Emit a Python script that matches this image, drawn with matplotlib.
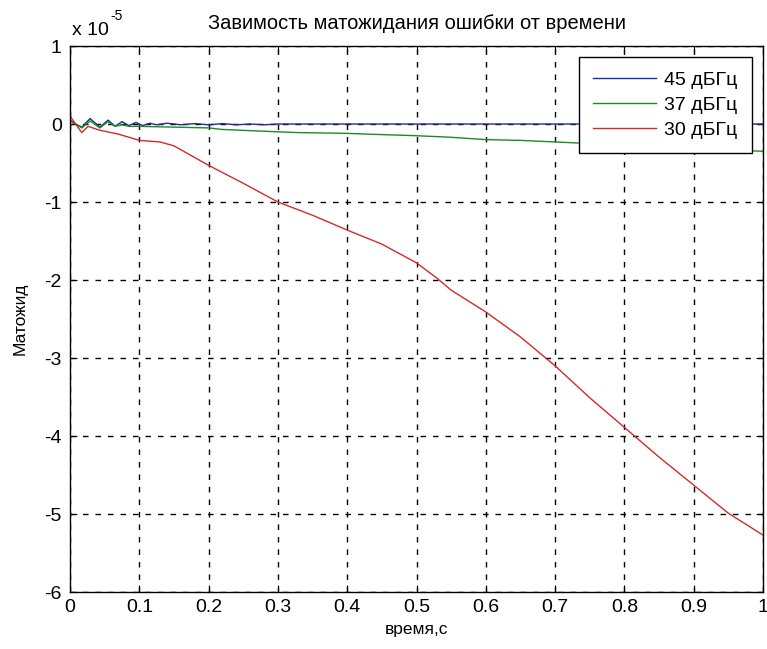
import matplotlib
matplotlib.use('Agg')
import matplotlib.pyplot as plt

plt.rcParams['font.family'] = ['Liberation Sans', 'DejaVu Sans']
plt.rcParams['axes.unicode_minus'] = False

# values in units of 1e-5
t45 = [0, 0.008, 0.017, 0.029, 0.043, 0.055, 0.065, 0.075, 0.085, 0.095, 0.105, 0.115, 0.125,
       0.14, 0.16, 0.18, 0.2, 0.22, 0.24, 0.26, 0.28, 0.3, 0.32, 1.0]
y45 = [0.05, 0.0, -0.04, 0.07, -0.04, 0.05, -0.03, 0.03, -0.02, 0.02, -0.02, 0.01, -0.01,
       0.01, -0.01, 0.005, -0.01, 0.005, -0.01, 0.0, -0.01, 0.0, 0.0, 0.0]

t37 = [0, 0.008, 0.017, 0.029, 0.043, 0.055, 0.065, 0.075, 0.085, 0.1, 0.15, 0.2, 0.22,
       0.3, 0.33, 0.4, 0.43, 0.5, 0.55, 0.6, 0.65, 0.7, 0.75, 0.8, 0.85, 0.9, 0.95, 1.0]
y37 = [0.04, 0.0, -0.05, 0.04, -0.05, 0.03, -0.03, -0.01, -0.03, -0.03, -0.04, -0.05, -0.07,
       -0.1, -0.11, -0.12, -0.13, -0.15, -0.17, -0.2, -0.21, -0.23, -0.25, -0.27, -0.29, -0.31, -0.33, -0.35]

t30 = [0, 0.017, 0.026, 0.043, 0.07, 0.1, 0.13, 0.15, 0.17, 0.2, 0.25, 0.3, 0.35, 0.4, 0.45, 0.5,
       0.53, 0.55, 0.6, 0.65, 0.7, 0.75, 0.8, 0.85, 0.9, 0.95, 1.0]
y30 = [0.1, -0.11, -0.03, -0.08, -0.13, -0.21, -0.23, -0.28, -0.38, -0.53, -0.76, -1.0, -1.17,
       -1.36, -1.54, -1.78, -1.98, -2.13, -2.41, -2.73, -3.1, -3.51, -3.89, -4.27, -4.63, -4.99, -5.27]

labels = ['45 дБГц', '37 дБГц', '30 дБГц']

fig = plt.figure(figsize=(7.67, 6.49), dpi=100)
ax = fig.add_axes([0.0913, 0.0878, 0.9035, 0.8413])

ax.plot(t45, y45, color='#1f2aa0', lw=1.0, label=labels[0])
ax.plot(t37, y37, color='#1f8a1f', lw=1.0, label=labels[1])
ax.plot(t30, y30, color='#d42a2a', lw=1.0, label=labels[2])

ax.set_xlim(0, 1)
ax.set_ylim(-6, 1)
ax.set_xticks([i / 10 for i in range(11)])
ax.set_xticklabels(['0', '0.1', '0.2', '0.3', '0.4', '0.5', '0.6', '0.7', '0.8', '0.9', '1'])
ax.set_yticks(range(-6, 2))
ax.tick_params(direction='in', labelsize=14, length=5, top=True, right=True)
ax.tick_params(axis='x', pad=5)
ax.tick_params(axis='y', pad=6)
ax.grid(True, color='black', linestyle=(0, (4, 5)), linewidth=1.0)
for s in ax.spines.values():
    s.set_linewidth(1.0)

# MATLAB-style exponent label
ax.text(0.003, 1.012, 'x 10', transform=ax.transAxes, fontsize=14, va='bottom')
ax.text(0.058, 1.042, '-5', transform=ax.transAxes, fontsize=10, va='bottom')
ax.set_title('Завимость матожидания ошибки от времени', fontsize=14.5, pad=12)
ax.set_xlabel('время,с', fontsize=12.5, labelpad=4)
ax.set_ylabel('Матожид', fontsize=12.5, labelpad=12)

leg = ax.legend(loc='upper right', fontsize=14, fancybox=False, framealpha=1,
                edgecolor='black', handlelength=3.2, borderaxespad=0.55,
                labelspacing=0.38, handletextpad=0.45, borderpad=0.75)
leg.get_frame().set_linewidth(1.0)

fig.savefig('out.png', dpi=100)
